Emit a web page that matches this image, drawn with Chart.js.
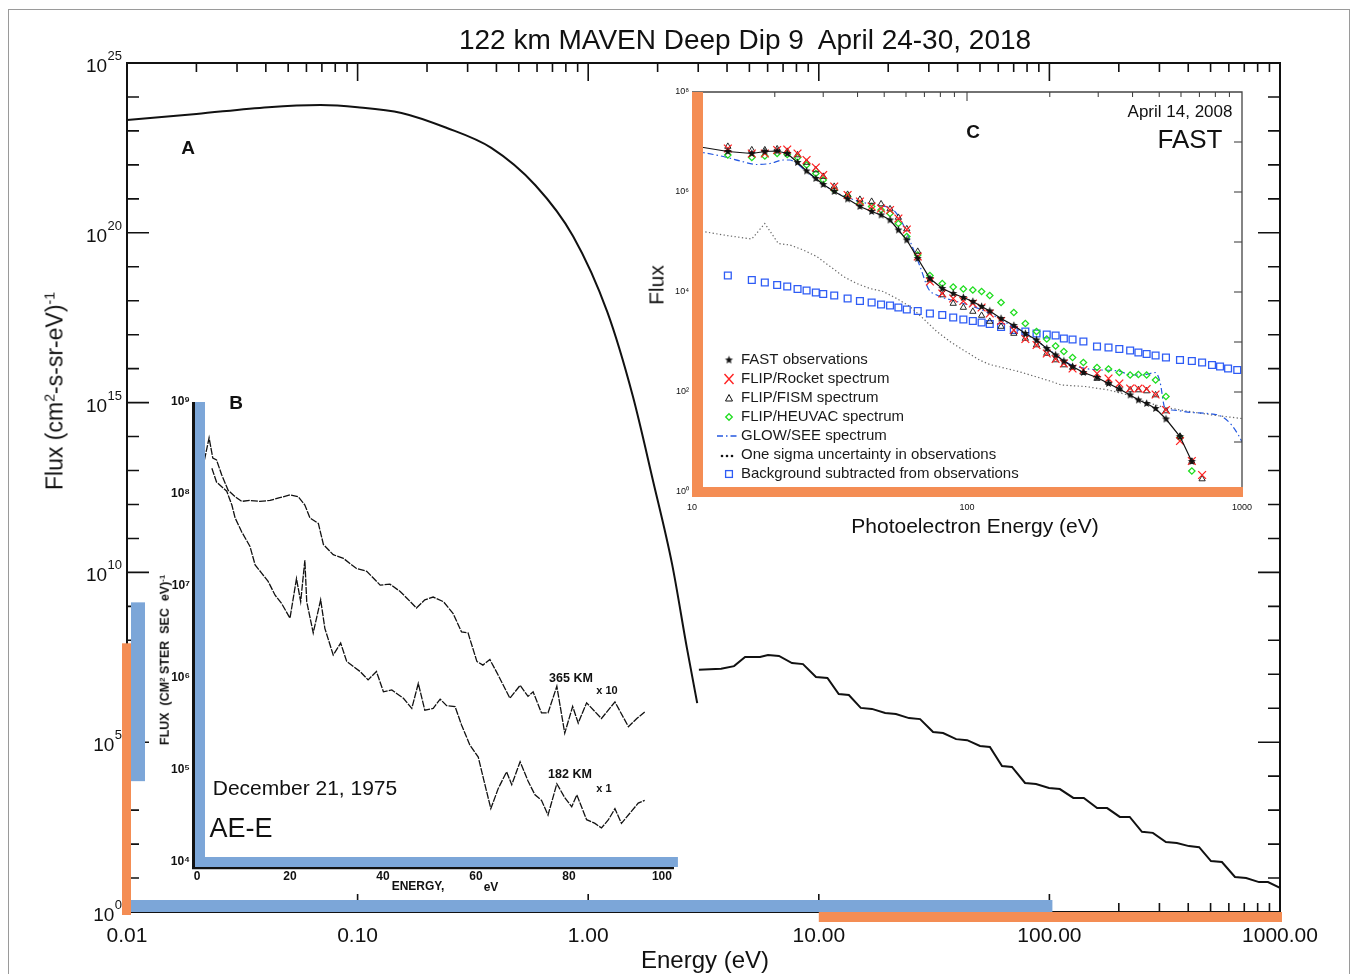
<!DOCTYPE html>
<html><head><meta charset="utf-8">
<script src="https://cdn.jsdelivr.net/npm/chart.js@4.4.1/dist/chart.umd.min.js"></script>
<style>
html,body{margin:0;padding:0;background:#fff;}
#wrap{position:relative;width:1357px;height:974px;overflow:hidden;font-family:"Liberation Sans",Arial,Helvetica,sans-serif;color:#111;}
canvas{position:absolute;}
.t{position:absolute;white-space:pre;line-height:1;}
.t sup{font-size:0.62em;line-height:0;vertical-align:0.55em;}
</style></head><body>
<div id="wrap">
<div style="position:absolute;left:8px;top:9px;width:1340px;height:1000px;border:1px solid #9a9a9a;"></div>
<canvas id="main" width="1357" height="974" style="left:0;top:0"></canvas>
<canvas id="insB" width="560" height="540" style="left:140px;top:380px"></canvas>
<canvas id="insC" width="640" height="460" style="left:630px;top:80px"></canvas>
</div>
<script>
// ================= DATA =================
// Main panel A (MAVEN Deep Dip 9)
const MAIN_X_TICKS = [0.01, 0.1, 1, 10, 100, 1000];
const MAIN_X_LABELS = ['0.01', '0.10', '1.00', '10.00', '100.00', '1000.00'];
const MAIN_Y_TICKS = [1, 1e5, 1e10, 1e15, 1e20, 1e25];
const MAIN_Y_EXPONENTS = ['0', '5', '10', '15', '20', '25'];   // labels read as 10^exp

const A_ENERGY = [0.01, 0.02, 0.041, 0.069, 0.1, 0.155, 0.241, 0.38, 0.59, 0.86, 1.21, 1.56, 1.91, 2.31, 2.68, 2.97];
const A_LOG10_FLUX = [23.32, 23.5, 23.7, 23.76, 23.7, 23.53, 23.1, 22.5, 21.4, 19.9, 17.67, 15.2, 12.7, 10.25, 7.77, 6.15];

const TAIL_ENERGY = [3.02, 3.77, 4.29, 4.79, 5.56, 6.02, 6.72, 7.65, 8.54, 9.72, 10.9, 12.2, 13.5, 15.2, 17.0, 19.4, 21.6, 24.6, 27.5, 31.3, 34.6, 39.4, 44.0, 50.0, 55.2, 62.3, 68.8, 78.4, 87.5, 99.6, 111, 127, 141, 161, 178, 202, 223, 252, 281, 320, 357, 403, 446, 502, 560, 638, 713, 811, 887, 1000];
const TAIL_LOG10_FLUX = [7.13, 7.16, 7.24, 7.51, 7.51, 7.57, 7.54, 7.33, 7.30, 6.92, 6.89, 6.42, 6.39, 6.01, 5.98, 5.86, 5.83, 5.71, 5.68, 5.30, 5.27, 5.09, 5.06, 4.89, 4.86, 4.30, 4.27, 3.80, 3.77, 3.65, 3.62, 3.36, 3.36, 3.06, 3.06, 2.80, 2.80, 2.36, 2.33, 2.06, 2.03, 1.94, 1.91, 1.50, 1.47, 1.03, 1.00, 0.88, 0.88, 0.71];

// Inset B (AE-E, December 21, 1975)
const B_X_TICKS = [0, 20, 40, 60, 80, 100];
const B_X_LABELS = ['0', '20', '40', '60', '80', '100'];
const B_Y_TICKS = [1e4, 1e5, 1e6, 1e7, 1e8, 1e9];
const B_Y_LABELS = ['10⁴', '10⁵', '10⁶', '10⁷', '10⁸', '10⁹'];

const B365_ENERGY = [1.6, 2.6, 3.4, 4.2, 5.3, 6.7, 8.2, 9.6, 11.4, 13.5, 15.7, 17.8, 20.0, 21.8, 23.2, 24.3, 26.1, 27.2, 29.3, 31.5, 34.3, 36.5, 39.4, 41.5, 43.7, 45.1, 47.2, 49.0, 50.8, 53.0, 55.1, 56.9, 58.3, 60.2, 61.5, 63.0, 64.8, 67.3, 69.5, 71.2, 72.3, 74.1, 75.5, 77.4, 79.1, 80.8, 82.0, 83.8, 87.0, 89.9, 92.8, 94.6, 96.3];
const B365_LOG10_FLUX = [8.37, 8.61, 8.39, 8.37, 8.21, 8.04, 7.97, 7.92, 7.93, 7.92, 7.93, 7.96, 7.99, 7.97, 7.88, 7.74, 7.68, 7.45, 7.34, 7.30, 7.19, 7.16, 7.01, 7.02, 6.94, 6.87, 6.76, 6.85, 6.88, 6.83, 6.70, 6.50, 6.49, 6.18, 6.14, 6.20, 6.03, 5.78, 5.92, 5.80, 5.85, 5.62, 5.62, 5.91, 5.40, 5.69, 5.51, 5.73, 5.56, 5.74, 5.47, 5.56, 5.63];

const B182_ENERGY = [3.2, 4.2, 6.4, 7.5, 8.2, 9.6, 11.4, 12.5, 13.9, 15.3, 16.8, 18.2, 20.0, 21.4, 22.3, 23.2, 23.6, 25.0, 26.6, 27.5, 29.3, 30.9, 32.2, 35.1, 36.8, 38.6, 40.1, 41.9, 44.4, 46.2, 47.6, 49.0, 50.8, 52.3, 53.7, 55.5, 56.9, 58.7, 60.5, 61.6, 63.2, 64.8, 66.6, 67.7, 69.5, 71.2, 72.7, 74.1, 75.5, 77.4, 79.1, 80.6, 81.7, 83.8, 85.6, 87.0, 88.5, 89.9, 91.3, 93.1, 94.9, 96.3];
const B182_LOG10_FLUX = [8.28, 8.13, 8.03, 7.88, 7.74, 7.59, 7.43, 7.23, 7.14, 7.05, 6.90, 6.81, 6.65, 7.08, 6.83, 7.28, 6.83, 6.49, 6.85, 6.54, 6.25, 6.38, 6.18, 6.07, 5.98, 6.07, 5.85, 5.87, 5.78, 5.67, 5.94, 5.65, 5.67, 5.77, 5.70, 5.69, 5.49, 5.27, 5.14, 4.91, 4.58, 4.80, 4.98, 4.84, 5.09, 4.88, 4.73, 4.67, 4.51, 4.85, 4.70, 4.60, 4.73, 4.46, 4.42, 4.37, 4.46, 4.58, 4.42, 4.53, 4.64, 4.67];

// Inset C (FAST, April 14, 2008)
const C_X_TICKS = [10, 100, 1000];
const C_X_LABELS = ['10', '100', '1000'];
const C_Y_TICKS = [1, 1e2, 1e4, 1e6, 1e8];
const C_Y_LABELS = ['10⁰', '10²', '10⁴', '10⁶', '10⁸'];

const C_ENERGY = [10.2, 13.5, 16.5, 18.4, 20.4, 22.2, 24.2, 26.1, 28.2, 30.0, 32.9, 36.8, 40.8, 45.0, 48.7, 52.5, 56.3, 60.4, 66.2, 73.3, 81.3, 89.1, 97.0, 105, 113, 121, 133, 148, 163, 179, 195, 210, 225, 242, 265, 297, 327, 358, 392, 420, 450, 485, 529, 595, 657, 716, 778, 832, 890, 961];
const FAST_LOG10 = [6.92, 6.81, 6.77, 6.81, 6.82, 6.77, 6.59, 6.42, 6.27, 6.15, 6.01, 5.86, 5.71, 5.61, 5.54, 5.44, 5.24, 5.04, 4.67, 4.27, 4.07, 3.97, 3.89, 3.81, 3.71, 3.62, 3.47, 3.33, 3.17, 3.04, 2.87, 2.74, 2.62, 2.51, 2.39, 2.29, 2.17, 2.06, 1.94, 1.84, 1.77, 1.67, 1.46, 1.11, 0.61, null, null, null, null, null];
const ROCKET_LOG10 = [null, 6.87, 6.77, 6.77, 6.84, 6.85, 6.77, 6.64, 6.49, 6.34, 6.11, 5.94, 5.81, 5.71, 5.67, 5.64, 5.47, 5.25, 4.71, 4.21, 3.97, 3.87, 3.82, 3.77, 3.69, 3.57, 3.42, 3.24, 3.06, 2.94, 2.77, 2.66, 2.57, 2.47, 2.44, 2.37, 2.27, 2.17, 2.07, 2.07, 2.06, 1.95, 1.64, 1.02, 0.62, 0.34, null, null, null, null];
const FISM_LOG10 = [null, 6.91, 6.84, 6.84, 6.86, 6.81, 6.74, 6.59, 6.44, 6.31, 6.11, 5.95, 5.85, 5.81, 5.76, 5.66, 5.49, 5.26, 4.81, 4.24, 3.94, 3.77, 3.69, 3.61, 3.53, 3.41, 3.31, 3.17, 3.07, 2.94, 2.77, 2.64, 2.54, 2.49, 2.39, 2.27, 2.19, 2.07, 2.04, 2.04, 2.02, 1.94, 1.62, 1.11, 0.61, 0.26, null, null, null, null];
const HEUVAC_LOG10 = [null, 6.74, 6.69, 6.72, 6.77, 6.75, 6.69, 6.54, 6.37, 6.24, 6.04, 5.91, 5.77, 5.71, 5.64, 5.57, 5.37, 5.11, 4.74, 4.33, 4.17, 4.10, 4.06, 4.04, 4.01, 3.93, 3.79, 3.59, 3.37, 3.21, 3.06, 2.92, 2.81, 2.69, 2.59, 2.49, 2.46, 2.39, 2.34, 2.35, 2.34, 2.24, 1.91, 1.09, 0.42, null, null, null, null, null];
const BACKGROUND_LOG10 = [null, 4.33, 4.24, 4.19, 4.14, 4.11, 4.06, 4.03, 3.99, 3.96, 3.93, 3.87, 3.82, 3.79, 3.75, 3.73, 3.69, 3.65, 3.62, 3.57, 3.54, 3.49, 3.45, 3.42, 3.39, 3.36, 3.30, 3.24, 3.21, 3.17, 3.15, 3.13, 3.07, 3.05, 3.01, 2.91, 2.89, 2.86, 2.83, 2.79, 2.76, 2.73, 2.69, 2.64, 2.62, 2.59, 2.54, 2.51, 2.47, 2.44];

const GLOW_ENERGY = [10.2, 13.0, 15.0, 17.2, 19.2, 21.5, 22.7, 24.0, 26.1, 32.9, 37.6, 42.0, 48.3, 54.0, 58.7, 62.9, 67.5, 72.3, 77.6, 91.8, 105, 121, 154, 177, 203, 234, 269, 309, 355, 397, 432, 463, 483, 503, 525, 555, 656, 754, 843, 917, 970, 998];
const GLOW_LOG10 = [6.82, 6.71, 6.62, 6.55, 6.57, 6.64, 6.64, 6.57, 6.41, 6.01, 5.87, 5.79, 5.73, 5.64, 5.34, 4.94, 4.51, 4.07, 3.94, 3.81, 3.71, 3.57, 3.24, 3.04, 2.81, 2.57, 2.47, 2.44, 2.42, 2.34, 2.34, 2.37, 2.39, 2.21, 1.67, 1.64, 1.59, 1.57, 1.51, 1.34, 1.14, 1.01];

const SIGMA_ENERGY = [10.2, 13.0, 16.5, 18.4, 20.6, 22.7, 25.4, 28.4, 31.8, 35.5, 39.7, 44.4, 49.6, 55.5, 62.0, 69.3, 77.6, 86.7, 96.9, 111, 121, 154, 177, 203, 220, 269, 327, 385, 441, 507, 627, 778, 998];
const SIGMA_LOG10 = [5.24, 5.14, 5.06, 5.37, 4.97, 4.94, 4.84, 4.71, 4.51, 4.31, 4.17, 4.07, 4.01, 3.87, 3.71, 3.47, 3.21, 3.01, 2.84, 2.64, 2.55, 2.41, 2.31, 2.21, 2.14, 2.11, 2.04, 1.94, 1.81, 1.71, 1.62, 1.54, 1.47];

const C_LEGEND = ['FAST observations', 'FLIP/Rocket spectrum', 'FLIP/FISM spectrum', 'FLIP/HEUVAC spectrum', 'GLOW/SEE spectrum', 'One sigma uncertainty in observations', 'Background subtracted from observations'];

// ================= STYLE / HELPERS =================
const ORANGE = '#F48D54', BLUE = '#7CA6D8';
const RED = '#FF2222', GREEN = '#1FDD1F', SQBLUE = '#2E5CF5', GLOWBLUE = '#2458E0';
const FONT = '"Liberation Sans", Arial, Helvetica, sans-serif';
Chart.defaults.font.family = FONT;
Chart.defaults.color = '#111';

const toPts = (E, V) => E.map((e, i) => V[i] == null ? null : { x: e, y: Math.pow(10, V[i]) }).filter(Boolean);

function axisOpts(type, pos, min, max, tickVals, labels, size, font, pad) {
  const isY = (pos === 'left');
  return {
    type, position: pos, min, max,
    grid: { display: false, drawTicks: false }, border: { display: false },
    afterBuildTicks: s => { s.ticks = tickVals.map(v => ({ value: v })); },
    afterFit: s => { if (isY) s.width = size; else s.height = size; },
    ticks: { autoSkip: false, maxRotation: 0, minRotation: 0, padding: pad, font, color: '#111',
             callback: (v, i) => labels[i] }
  };
}

function makeStar(r, color) {
  const s = Math.ceil(r * 2 + 2), c = document.createElement('canvas');
  c.width = s; c.height = s;
  const g = c.getContext('2d');
  g.fillStyle = color; g.beginPath();
  for (let i = 0; i < 10; i++) {
    const ang = -Math.PI / 2 + i * Math.PI / 5, rr = (i % 2 === 0) ? r : r * 0.45;
    g.lineTo(s / 2 + rr * Math.cos(ang), s / 2 + rr * Math.sin(ang));
  }
  g.closePath(); g.fill();
  return c;
}
const STAR = makeStar(4.2, '#111');

function decoPlugin(id, spec) {
  return {
    id,
    afterDatasetsDraw(chart) {
      const ctx = chart.ctx, a = chart.chartArea, xs = chart.scales.x, ys = chart.scales.y;
      ctx.save();
      (spec.ticks || []).forEach(t => {
        ctx.strokeStyle = t.color || '#111'; ctx.lineWidth = t.width || 1.5;
        ctx.beginPath();
        t.values.forEach(v => {
          if (t.axis === 'x') {
            const p = xs.getPixelForValue(v);
            t.edges.forEach(e => {
              if (e === 'bottom') { ctx.moveTo(p, a.bottom); ctx.lineTo(p, a.bottom - t.len); }
              else { ctx.moveTo(p, a.top); ctx.lineTo(p, a.top + t.len); }
            });
          } else {
            const p = ys.getPixelForValue(v);
            t.edges.forEach(e => {
              if (e === 'left') { ctx.moveTo(a.left, p); ctx.lineTo(a.left + t.len, p); }
              else { ctx.moveTo(a.right, p); ctx.lineTo(a.right - t.len, p); }
            });
          }
        });
        ctx.stroke();
      });
      if (spec.frame) spec.frame(ctx, a);
      (spec.bars || []).forEach(b => {
        ctx.fillStyle = b.color;
        if (b.axis === 'x') {
          const x0 = xs.getPixelForValue(b.from) + b.a0, x1 = xs.getPixelForValue(b.to) + b.a1;
          ctx.fillRect(x0, a.bottom + b.c0, x1 - x0, b.c1 - b.c0);
        } else {
          const yb = ys.getPixelForValue(b.from) + b.a0, yt = ys.getPixelForValue(b.to) + b.a1;
          ctx.fillRect(a.left + b.c0, yt, b.c1 - b.c0, yb - yt);
        }
      });
      if (spec.extra) spec.extra(ctx, a, xs, ys);
      ctx.restore();
    }
  };
}

function minorLog(decades) {
  const out = [];
  decades.forEach(d => { for (let k = 2; k <= 9; k++) out.push(k * d); });
  return out;
}

const baseOpts = (padding, scales) => ({
  responsive: false, animation: false, events: [], devicePixelRatio: 1,
  layout: { padding },
  plugins: { legend: { display: false }, tooltip: { enabled: false }, title: { display: false } },
  scales
});

// ================= MAIN CHART =================
const mainDecadesY = [];
for (let e = 0; e <= 25; e++) if (e % 5 !== 0) mainDecadesY.push(Math.pow(10, e));

const mainY = axisOpts('logarithmic', 'left', 1, 1e25, MAIN_Y_TICKS, MAIN_Y_TICKS.map(() => ''), 127, { size: 19 }, 6);

new Chart(document.getElementById('main'), {
  type: 'line',
  data: { datasets: [
    { data: toPts(A_ENERGY, A_LOG10_FLUX), borderColor: '#111', borderWidth: 2, pointRadius: 0, cubicInterpolationMode: 'monotone', fill: false },
    { data: toPts(TAIL_ENERGY, TAIL_LOG10_FLUX), borderColor: '#111', borderWidth: 2, pointRadius: 0, tension: 0, fill: false }
  ]},
  options: baseOpts({ left: 0, right: 77, top: 63, bottom: 0 }, {
    x: axisOpts('logarithmic', 'bottom', 0.01, 1000, MAIN_X_TICKS, MAIN_X_LABELS, 62, { size: 21 }, 12),
    y: mainY
  }),
  plugins: [decoPlugin('decoMain', {
    ticks: [
      { axis: 'x', values: MAIN_X_TICKS, edges: ['bottom', 'top'], len: 18, width: 1.6 },
      { axis: 'x', values: minorLog(MAIN_X_TICKS.slice(0, 5)), edges: ['bottom', 'top'], len: 9, width: 1.6 },
      { axis: 'y', values: MAIN_Y_TICKS, edges: ['left', 'right'], len: 22, width: 1.6 },
      { axis: 'y', values: mainDecadesY, edges: ['left', 'right'], len: 12, width: 1.6 }
    ],
    frame: (ctx, a) => { ctx.strokeStyle = '#111'; ctx.lineWidth = 2; ctx.strokeRect(a.left, a.top, a.right - a.left, a.bottom - a.top); },
    bars: [
      { axis: 'x', from: 0.01, to: 100, a0: 3, a1: 3, c0: -12, c1: 0, color: BLUE },
      { axis: 'x', from: 10, to: 1000, a0: 0, a1: 2, c0: 0, c1: 10, color: ORANGE },
      { axis: 'y', from: 1e4, to: 1e9, a0: 5, a1: -4, c0: 4, c1: 18, color: BLUE },
      { axis: 'y', from: 1, to: 1e8, a0: 3, a1: 3, c0: -5, c1: 4, color: ORANGE }
    ],
    // y tick labels as "10" with a raised exponent, placed at the axis tick pixels
    extra: (ctx, a, xs, ys) => {
      ctx.fillStyle = '#111'; ctx.textAlign = 'right'; ctx.textBaseline = 'alphabetic';
      const xr = a.left - 5;
      MAIN_Y_TICKS.forEach((v, i) => {
        const p = ys.getPixelForValue(v);
        ctx.font = '13px ' + FONT;
        const ew = ctx.measureText(MAIN_Y_EXPONENTS[i]).width;
        ctx.fillText(MAIN_Y_EXPONENTS[i], xr, p - 3);
        ctx.font = '19px ' + FONT;
        ctx.fillText('10', xr - ew - 0.5, p + 9);
      });
    }
  })]
});

// ================= INSET B =================
new Chart(document.getElementById('insB'), {
  type: 'line',
  data: { datasets: [
    { data: toPts(B365_ENERGY, B365_LOG10_FLUX), borderColor: '#111', borderWidth: 1.3, borderDash: [7, 1.2], pointRadius: 0, tension: 0, fill: false },
    { data: toPts(B182_ENERGY, B182_LOG10_FLUX), borderColor: '#111', borderWidth: 1.3, borderDash: [7, 1.2], pointRadius: 0, tension: 0, fill: false }
  ]},
  options: baseOpts({ left: 0, right: 26, top: 22, bottom: 0 }, {
    x: axisOpts('linear', 'bottom', 0, 102.6, B_X_TICKS, B_X_LABELS, 58, { size: 12, weight: 'bold' }, 7),
    y: axisOpts('logarithmic', 'left', 1e4, 1e9, B_Y_TICKS, B_Y_LABELS, 57, { size: 12, weight: 'bold' }, 7)
  }),
  plugins: [decoPlugin('decoB', {
    frame: (ctx, a) => {
      ctx.strokeStyle = '#111'; ctx.lineWidth = 3;
      ctx.beginPath(); ctx.moveTo(a.left - 3.5, a.top); ctx.lineTo(a.left - 3.5, a.bottom + 7); ctx.stroke();
      ctx.lineWidth = 2.5;
      ctx.beginPath(); ctx.moveTo(a.left - 5, a.bottom + 6); ctx.lineTo(a.right, a.bottom + 6); ctx.stroke();
    },
    bars: [
      { axis: 'y', from: 1e4, to: 1e9, a0: 5, a1: 0, c0: -2, c1: 8, color: BLUE },
      { axis: 'x', from: 0, to: 100, a0: -2, a1: 16, c0: -5, c1: 5, color: BLUE }
    ]
  })]
});

// ================= INSET C =================
const markerDS = (vals, style, color, r, bw) => ({
  data: toPts(C_ENERGY, vals), showLine: false, pointStyle: style, pointRadius: r,
  pointBorderColor: color, pointBackgroundColor: 'rgba(0,0,0,0)', pointBorderWidth: bw, borderColor: color
});

function legendSymbol(ctx, i, x, y) {
  ctx.save();
  if (i === 0) { ctx.drawImage(STAR, x - STAR.width / 2, y - STAR.height / 2); }
  else if (i === 1) { ctx.strokeStyle = RED; ctx.lineWidth = 1.4; ctx.beginPath(); ctx.moveTo(x - 4.5, y - 5); ctx.lineTo(x + 4.5, y + 5); ctx.moveTo(x + 4.5, y - 5); ctx.lineTo(x - 4.5, y + 5); ctx.stroke(); }
  else if (i === 2) { ctx.strokeStyle = '#111'; ctx.lineWidth = 1; ctx.beginPath(); ctx.moveTo(x, y - 3.5); ctx.lineTo(x + 3.5, y + 3); ctx.lineTo(x - 3.5, y + 3); ctx.closePath(); ctx.stroke(); }
  else if (i === 3) { ctx.strokeStyle = GREEN; ctx.lineWidth = 1.3; ctx.beginPath(); ctx.moveTo(x, y - 3.3); ctx.lineTo(x + 3.3, y); ctx.lineTo(x, y + 3.3); ctx.lineTo(x - 3.3, y); ctx.closePath(); ctx.stroke(); }
  else if (i === 4) { ctx.strokeStyle = GLOWBLUE; ctx.lineWidth = 1.3; ctx.setLineDash([6, 3, 1.5, 3]); ctx.beginPath(); ctx.moveTo(x - 12, y); ctx.lineTo(x + 9, y); ctx.stroke(); }
  else if (i === 5) { ctx.fillStyle = '#111'; [-9, -4, 1].forEach(d => { ctx.beginPath(); ctx.arc(x + d + 2, y + 1, 1.3, 0, Math.PI * 2); ctx.fill(); }); }
  else { ctx.strokeStyle = SQBLUE; ctx.lineWidth = 1.3; ctx.strokeRect(x - 3.4, y - 3.4, 6.8, 6.8); }
  ctx.restore();
}

new Chart(document.getElementById('insC'), {
  type: 'line',
  data: { datasets: [
    { data: toPts(C_ENERGY, FAST_LOG10), borderColor: '#111', borderWidth: 1.2, tension: 0, fill: false,
      pointStyle: c => c.dataIndex === 0 ? false : STAR, pointRadius: 4 },
    markerDS(ROCKET_LOG10, 'crossRot', RED, 5.5, 1.3),
    markerDS(FISM_LOG10, 'triangle', '#111', 3.6, 0.9),
    markerDS(HEUVAC_LOG10, 'rectRot', GREEN, 3.2, 1.3),
    { data: toPts(GLOW_ENERGY, GLOW_LOG10), borderColor: GLOWBLUE, borderWidth: 1.2, borderDash: [6, 3, 1.5, 3], pointRadius: 0, cubicInterpolationMode: 'monotone', fill: false },
    { data: toPts(SIGMA_ENERGY, SIGMA_LOG10), borderColor: '#666', borderWidth: 1.2, borderDash: [1.3, 2.4], pointRadius: 0, tension: 0, fill: false },
    markerDS(BACKGROUND_LOG10, 'rect', SQBLUE, 4.8, 1.3)
  ]},
  options: baseOpts({ left: 0, right: 28, top: 12, bottom: 0 }, {
    x: axisOpts('logarithmic', 'bottom', 10, 1000, C_X_TICKS, C_X_LABELS, 48, { size: 9 }, 10),
    y: axisOpts('logarithmic', 'left', 1, 1e8, C_Y_TICKS, C_Y_LABELS, 62, { size: 9 }, 3)
  }),
  plugins: [decoPlugin('decoC', {
    ticks: [
      { axis: 'x', values: minorLog([10, 100]), edges: ['top'], len: 5, width: 1, color: '#333' },
      { axis: 'x', values: [100], edges: ['top'], len: 9, width: 1, color: '#333' },
      { axis: 'y', values: [1e1, 1e2, 1e3, 1e4, 1e5, 1e6, 1e7], edges: ['right'], len: 8, width: 1, color: '#333' }
    ],
    frame: (ctx, a) => {
      ctx.strokeStyle = '#444'; ctx.lineWidth = 1.3;
      ctx.beginPath(); ctx.moveTo(a.left, a.top); ctx.lineTo(a.right, a.top); ctx.lineTo(a.right, a.bottom); ctx.stroke();
    },
    bars: [
      { axis: 'y', from: 1, to: 1e8, a0: 5, a1: 0, c0: 0, c1: 11, color: ORANGE },
      { axis: 'x', from: 10, to: 1000, a0: 0, a1: 1, c0: -5, c1: 5, color: ORANGE }
    ],
    extra: (ctx, a) => {
      ctx.font = '15px ' + FONT;
      ctx.fillStyle = '#1a1a1a'; ctx.textBaseline = 'middle'; ctx.textAlign = 'left';
      C_LEGEND.forEach((txt, i) => {
        const y = 280 + 19 * i;
        legendSymbol(ctx, i, 99, y);
        ctx.fillText(txt, 111, y);
      });
    }
  })]
});

// ================= TEXT OVERLAYS =================
const wrap = document.getElementById('wrap');
function addText(html, cx, cy, css, rot) {
  const d = document.createElement('div');
  d.className = 't'; d.innerHTML = html;
  d.style.cssText += 'left:' + cx + 'px;top:' + cy + 'px;transform:translate(-50%,-50%)' + (rot ? ' rotate(-90deg)' : '') + ';' + css;
  wrap.appendChild(d);
}
addText('122 km MAVEN Deep Dip 9  April 24-30, 2018', 745, 40, 'font-size:28px;');
addText('Flux (cm<sup>2</sup>-s-sr-eV)<sup>-1</sup>', 55, 391, 'font-size:23px;', true);
addText('Energy (eV)', 705, 960, 'font-size:24px;');
addText('A', 188, 147, 'font-size:19px;font-weight:bold;');
addText('B', 236, 402, 'font-size:19px;font-weight:bold;');
addText('C', 973, 131, 'font-size:19px;font-weight:bold;');
addText('April 14, 2008', 1180, 111, 'font-size:17px;');
addText('FAST', 1190, 139, 'font-size:26px;');
addText('Flux', 656, 285, 'font-size:21px;', true);
addText('Photoelectron Energy (eV)', 975, 525, 'font-size:21px;');
addText('December 21, 1975', 305, 787, 'font-size:21px;');
addText('AE-E', 241, 828, 'font-size:27px;');
addText('365 KM', 571, 678, 'font-size:12.5px;font-weight:bold;');
addText('x 10', 607, 690, 'font-size:11px;font-weight:bold;');
addText('182 KM', 570, 774, 'font-size:12.5px;font-weight:bold;');
addText('x 1', 604, 788, 'font-size:11px;font-weight:bold;');
addText('FLUX  (CM<sup>2</sup> STER  SEC  eV)<sup>-1</sup>', 165, 660, 'font-size:12.5px;font-weight:bold;', true);
addText('ENERGY,', 418, 886, 'font-size:12px;font-weight:bold;');
addText('eV', 491, 887, 'font-size:12px;font-weight:bold;');
</script>
</body></html>
